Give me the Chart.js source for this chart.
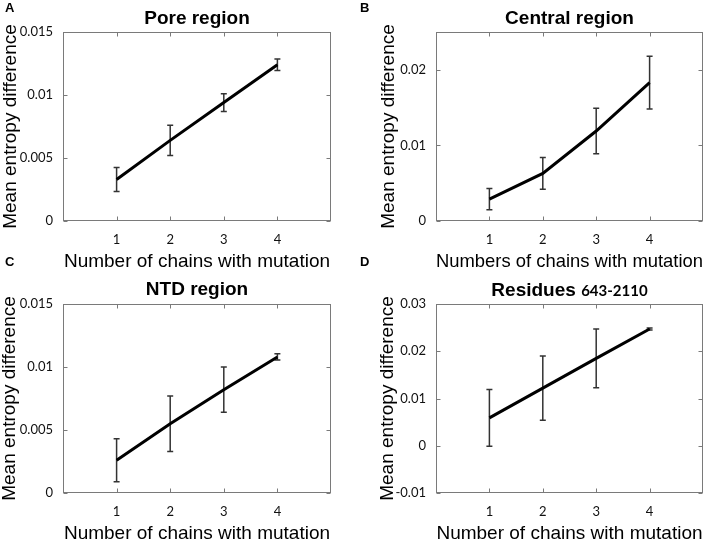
<!DOCTYPE html>
<html><head><meta charset="utf-8">
<script src="https://cdn.jsdelivr.net/npm/chart.js@4"></script>
<style>
body{margin:0;background:#fff;}
#wrap{position:relative;width:709px;height:542px;overflow:hidden;background:#fff;}
canvas{position:absolute;}
.lbl{position:absolute;font:bold 13px "Liberation Sans",Arial,sans-serif;line-height:13px;color:#000;z-index:2;}
</style></head><body>
<div id="wrap">
<canvas id="cA" width="355" height="271" style="left:0;top:0"></canvas>
<canvas id="cB" width="354" height="271" style="left:355px;top:0"></canvas>
<canvas id="cC" width="355" height="271" style="left:0;top:271px"></canvas>
<canvas id="cD" width="354" height="271" style="left:355px;top:271px"></canvas>
<div class="lbl" style="left:5px;top:1px">A</div>
<div class="lbl" style="left:360px;top:1px">B</div>
<div class="lbl" style="left:5px;top:255px">C</div>
<div class="lbl" style="left:360px;top:255px">D</div>
</div>
<script>
// ---- data ----
const chains = [1, 2, 3, 4];
const xTicks = [1, 2, 3, 4];

const poreMean = [0.0033, 0.0064, 0.0094, 0.0124];
const poreErr  = [0.00095, 0.0012, 0.0007, 0.00045];
const poreTicks = [0, 0.005, 0.01, 0.015];

const centralMean = [0.0029, 0.0063, 0.0119, 0.0183];
const centralErr  = [0.0014, 0.0021, 0.0030, 0.0035];
const centralTicks = [0, 0.01, 0.02];

const ntdMean = [0.0026, 0.0055, 0.0082, 0.0108];
const ntdErr  = [0.0017, 0.0022, 0.0018, 0.00025];
const ntdTicks = [0, 0.005, 0.01, 0.015];

const resMean = [0.0059, 0.0122, 0.0185, 0.0247];
const resErr  = [0.0060, 0.0068, 0.0062, 0.0002];
const resTicks = [-0.01, 0, 0.01, 0.02, 0.03];

const yLabel = 'Mean entropy difference';

// ---- styling ----
const LAB = '"Liberation Sans", Arial, sans-serif';
const TICKF = 'Lato, "Open Sans", sans-serif';
Chart.defaults.font.family = LAB;

function makeChart(id, p) {
  const g = p.geom;
  const errPlugin = {
    id: 'errBars',
    beforeDatasetsDraw(chart) {
      const {ctx, chartArea: a, scales: {x, y}} = chart;
      ctx.save();
      ctx.strokeStyle = '#7a7a7a';
      ctx.lineWidth = 1;
      const L = Math.round(a.left) + 0.5, R = Math.round(a.right) - 0.5;
      const T = Math.round(a.top) + 0.5, B = Math.round(a.bottom) - 0.5;
      ctx.strokeRect(L, T, R - L, B - T);
      ctx.beginPath();
      x.ticks.forEach(t => {
        const px = Math.round(x.getPixelForValue(t.value)) + 0.5;
        ctx.moveTo(px, B); ctx.lineTo(px, B - 4);
        ctx.moveTo(px, T); ctx.lineTo(px, T + 4);
      });
      y.ticks.forEach(t => {
        const py = Math.round(y.getPixelForValue(t.value)) + 0.5;
        ctx.moveTo(L, py); ctx.lineTo(L + 4, py);
        ctx.moveTo(R, py); ctx.lineTo(R - 4, py);
      });
      ctx.stroke();
      ctx.strokeStyle = '#333';
      ctx.lineWidth = 1.5;
      ctx.beginPath();
      chains.forEach((c, i) => {
        const px = x.getPixelForValue(c);
        const yt = y.getPixelForValue(p.mean[i] + p.err[i]);
        const yb = y.getPixelForValue(p.mean[i] - p.err[i]);
        ctx.moveTo(px, yt); ctx.lineTo(px, yb);
        ctx.moveTo(px - 3, yt); ctx.lineTo(px + 3, yt);
        ctx.moveTo(px - 3, yb); ctx.lineTo(px + 3, yb);
      });
      ctx.stroke();
      ctx.restore();
    },
    afterDraw(chart) {
      if (!p.titleParts) return;
      const {ctx, chartArea: a} = chart;
      ctx.save();
      ctx.fillStyle = '#000';
      ctx.textBaseline = 'alphabetic';
      ctx.textAlign = 'left';
      const widths = p.titleParts.map(pt => { ctx.font = pt.font; return ctx.measureText(pt.text).width; });
      const total = widths.reduce((s, w) => s + w, 0);
      let x0 = (a.left + a.right) / 2 - total / 2;
      p.titleParts.forEach((pt, i) => { ctx.font = pt.font; ctx.fillText(pt.text, x0, g.titleBaseline); x0 += widths[i]; });
      ctx.restore();
    }
  };

  return new Chart(document.getElementById(id), {
    type: 'line',
    data: {
      datasets: [{
        data: chains.map((c, i) => ({x: c, y: p.mean[i]})),
        borderColor: '#000',
        borderWidth: 3,
        pointRadius: 0,
        tension: 0,
        fill: false
      }]
    },
    options: {
      responsive: false,
      animation: false,
      devicePixelRatio: 1,
      layout: {padding: {left: 0, right: g.padRight, top: g.padTop || 0, bottom: 0}},
      plugins: {
        legend: {display: false},
        tooltip: {enabled: false},
        title: {
          display: !!p.title,
          text: p.title || '',
          fullSize: false,
          color: '#000',
          font: {family: LAB, size: 19, weight: 'bold', lineHeight: 1},
          padding: {top: 8.9, bottom: g.titlePadBottom || 0}
        }
      },
      scales: {
        x: {
          type: 'linear', min: 0, max: 5,
          afterBuildTicks: s => { s.ticks = xTicks.map(v => ({value: v})); },
          afterFit: s => { s.height = g.xH; },
          grid: {display: false, drawTicks: false},
          border: {display: false},
          ticks: {font: {family: TICKF, size: 13}, color: '#111', padding: 11, callback: v => String(v)},
          title: {display: true, text: p.xLabel, color: '#000',
                  font: {family: LAB, size: 19, lineHeight: 1}, padding: {top: 0, bottom: g.xTitlePad}}
        },
        y: {
          type: 'linear', min: p.yMin, max: p.yMax,
          afterBuildTicks: s => { s.ticks = p.yTicks.map(v => ({value: v})); },
          afterFit: s => { s.width = g.left; },
          grid: {display: false, drawTicks: false},
          border: {display: false},
          ticks: {font: {family: TICKF, size: 13}, color: '#111', padding: 10, callback: v => String(v)},
          title: {display: true, text: yLabel, color: '#000',
                  font: {family: LAB, size: 19, lineHeight: 1}, padding: {top: g.yTitlePad, bottom: 0}}
        }
      }
    },
    plugins: [errPlugin]
  });
}

makeChart('cA', {
  mean: poreMean, err: poreErr, yTicks: poreTicks, yMin: 0, yMax: 0.015,
  title: 'Pore region', xLabel: 'Number of chains with mutation',
  geom: {left: 63, padRight: 24, xH: 50, titlePadBottom: 4.1, yTitlePad: 0.8, xTitlePad: 0}
});
makeChart('cB', {
  mean: centralMean, err: centralErr, yTicks: centralTicks, yMin: 0, yMax: 0.025,
  title: 'Central region', xLabel: 'Numbers of chains with mutation',
  geom: {left: 81, padRight: 6, xH: 50, titlePadBottom: 4.1, yTitlePad: 24.3, xTitlePad: 0}
});
makeChart('cC', {
  mean: ntdMean, err: ntdErr, yTicks: ntdTicks, yMin: 0, yMax: 0.015,
  title: 'NTD region', xLabel: 'Number of chains with mutation',
  geom: {left: 63, padRight: 24, xH: 49, titlePadBottom: 5.1, yTitlePad: 0.3, xTitlePad: -1}
});
makeChart('cD', {
  mean: resMean, err: resErr, yTicks: resTicks, yMin: -0.01, yMax: 0.03,
  title: null, xLabel: 'Number of chains with mutation',
  titleParts: [
    {text: 'Residues ', font: 'bold 19px ' + LAB},
    {text: '643-2110', font: 'bold 15px ' + TICKF}
  ],
  geom: {left: 81, padRight: 6, padTop: 33, xH: 49, yTitlePad: 22.8, xTitlePad: -1, titleBaseline: 25}
});
</script>
</body></html>
